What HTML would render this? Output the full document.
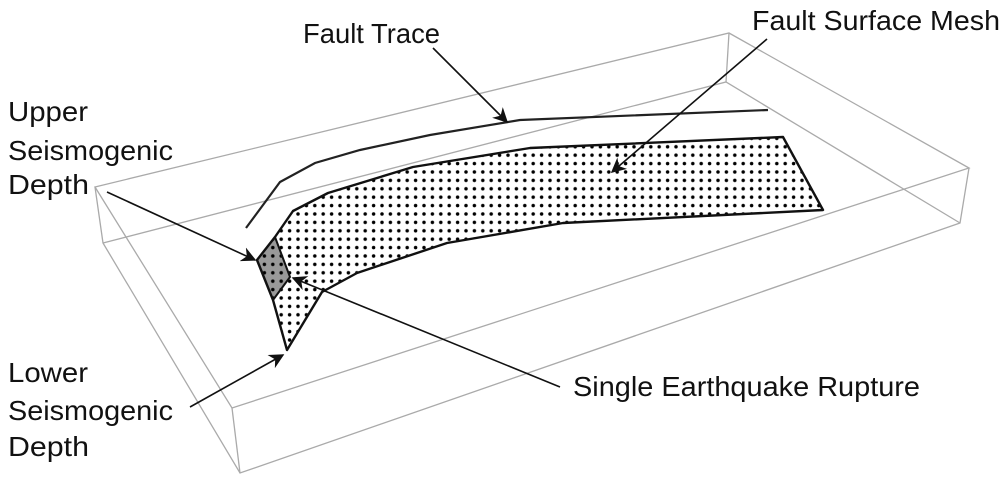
<!DOCTYPE html>
<html><head><meta charset="utf-8"><style>
html,body{margin:0;padding:0;background:#fff;}
svg{display:block;}
text{font-family:"Liberation Sans",sans-serif;font-size:28px;fill:#111;}
</style></head><body>
<svg width="1006" height="485" viewBox="0 0 1006 485" xmlns="http://www.w3.org/2000/svg">
<defs>
<pattern id="dots" x="0" y="0" width="8.4" height="8.4" patternUnits="userSpaceOnUse">
<circle cx="4" cy="4" r="1.75" fill="#000"/>
</pattern>
<marker id="ah" viewBox="0 0 10 10" refX="9" refY="5" markerWidth="15" markerHeight="15" markerUnits="userSpaceOnUse" orient="auto">
<path d="M0,0 L10,5 L0,10 L3,5 z" fill="#111"/>
</marker>
<clipPath id="mc"><polygon points="257,260 275,237 293,211 328,193 413,167 530,148 783,137 823,210 563,223 447,243 357,273 322,292 287,350 273,300"/></clipPath>
</defs>
<g stroke="#aaa" stroke-width="1.3" fill="none">
<polygon points="95,187 729,33 969,168 232,408"/>
<polyline points="95,187 103,243 240,473 960,223 969,168"/>
<line x1="232" y1="408" x2="240" y2="473"/>
<polyline points="103,243 726,82 960,223"/>
<line x1="729" y1="33" x2="726" y2="82"/>
</g>
<polyline points="246,228 280,182 315,163 360,150 430,135 520,120 768,110" fill="none" stroke="#222" stroke-width="2.2"/>
<polygon points="257,260 275,237 293,211 328,193 413,167 530,148 783,137 823,210 563,223 447,243 357,273 322,292 287,350 273,300" fill="#fff"/>
<polygon points="257,260 275,237 290,277 273,300" fill="#999"/>
<rect x="240" y="130" width="600" height="230" fill="url(#dots)" clip-path="url(#mc)"/>
<polygon points="257,260 275,237 293,211 328,193 413,167 530,148 783,137 823,210 563,223 447,243 357,273 322,292 287,350 273,300" fill="none" stroke="#111" stroke-width="2.4" stroke-linejoin="round"/>
<polyline points="275,237 290,277 273,300" fill="none" stroke="#111" stroke-width="2"/>
<g stroke="#111" stroke-width="1.6" fill="none" marker-end="url(#ah)">
<line x1="433" y1="48" x2="507" y2="122"/>
<line x1="767" y1="39" x2="612" y2="172"/>
<line x1="107" y1="192" x2="255" y2="260"/>
<line x1="190" y1="407" x2="283" y2="355"/>
<line x1="560" y1="387" x2="293" y2="278"/>
</g>
<text x="303" y="43" textLength="137" lengthAdjust="spacingAndGlyphs">Fault Trace</text>
<text x="752" y="30" textLength="248" lengthAdjust="spacingAndGlyphs">Fault Surface Mesh</text>
<text x="8" y="121" textLength="80" lengthAdjust="spacingAndGlyphs">Upper</text>
<text x="8" y="160" textLength="165" lengthAdjust="spacingAndGlyphs">Seismogenic</text>
<text x="8" y="194" textLength="81" lengthAdjust="spacingAndGlyphs">Depth</text>
<text x="8" y="382" textLength="80" lengthAdjust="spacingAndGlyphs">Lower</text>
<text x="8" y="420" textLength="165" lengthAdjust="spacingAndGlyphs">Seismogenic</text>
<text x="8" y="456" textLength="81" lengthAdjust="spacingAndGlyphs">Depth</text>
<text x="573" y="396" textLength="347" lengthAdjust="spacingAndGlyphs">Single Earthquake Rupture</text>
</svg>
</body></html>
